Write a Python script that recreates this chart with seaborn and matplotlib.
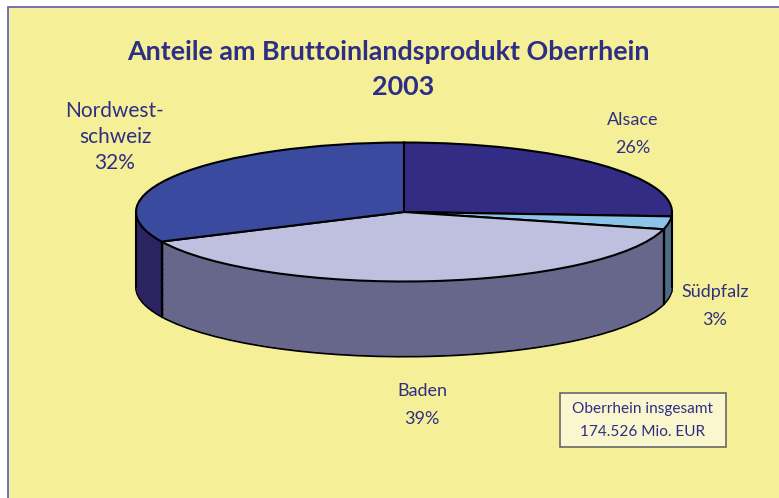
import numpy as np
import matplotlib
matplotlib.use("Agg")
import matplotlib.pyplot as plt
from matplotlib.patches import Rectangle
import seaborn as sns

# ---- data ----
regions = ["Alsace", "Südpfalz", "Baden", "Nordwest-\nschweiz"]
shares = [26, 3, 39, 32]
title_lines = ["Anteile am Bruttoinlandsprodukt Oberrhein", "2003"]
total_lines = ["Oberrhein insgesamt", "174.526 Mio. EUR"]
top_colors = ["#332c85", "#8cc3e8", "#bfbfe0", "#3a4a9e"]
wall_colors = ["#262063", "#4f6b8a", "#66678a", "#2c2461"]
# ---- layout (pixels) ----
W, H = 779, 498
CX, CY, RX, RY, DEPTH = 404, 212, 268, 69.5, 75
label_pos = {"Alsace": (633, 134), "Südpfalz": (715, 306), "Baden": (422, 405), "Nordwest-\nschweiz": (115, 137)}
TEXT = "#2f2e85"

sns.set_theme(style="white")
plt.rcParams["font.family"] = ["Lato", "DejaVu Sans"]

fig = plt.figure(figsize=(W / 100, H / 100), dpi=100, facecolor="white")

# background panel and texts, in pixel coordinates
bg = fig.add_axes([0, 0, 1, 1], zorder=0)
bg.set_xlim(0, W); bg.set_ylim(H, 0); bg.axis("off")
bg.add_patch(Rectangle((8.5, 6.5), W + 20, H + 20, facecolor="#f5f097", edgecolor="#6467b8", linewidth=1.3))

bg.text(388, 52, title_lines[0], ha="center", va="center", fontsize=19.4, fontweight="bold", color=TEXT)
bg.text(403, 87, title_lines[1], ha="center", va="center", fontsize=19.4, fontweight="bold", color=TEXT)
for name, val in zip(regions, shares):
    x, y = label_pos[name]
    big = name.startswith("Nordwest")
    bg.text(x, y, f"{name}\n{val}%", ha="center", va="center", color=TEXT,
            fontsize=15 if big else 13, linespacing=1.36 if big else 1.85)
bg.add_patch(Rectangle((560, 393), 166, 54, facecolor="#faf6cd", edgecolor="#5e5c62", linewidth=1.1))
bg.text(643, 409, total_lines[0], ha="center", va="center", fontsize=11.1, color=TEXT)
bg.text(643, 432, total_lines[1], ha="center", va="center", fontsize=11.1, color=TEXT)

# the pie: unit radius in data space, squashed by the axis limits
ax = fig.add_axes([0, 0, 1, 1], zorder=1)
ax.patch.set_alpha(0)
depth = DEPTH / RY
line = dict(edgecolor="black", linewidth=1.5)

# bottom layer carries the lower outline, upper layers build the wall
ax.pie(shares, colors=wall_colors, startangle=90, counterclock=False, wedgeprops=line, center=(0, -depth))
for d in np.linspace(depth - 0.01, 0.01, 60):
    ax.pie(shares, colors=wall_colors, startangle=90, counterclock=False,
           wedgeprops=dict(linewidth=0.6, edgecolor="none"), center=(0, -d))

# vertical edges at slice borders on the front and at the silhouette
angles = np.deg2rad(90 - np.cumsum(shares) * 3.6)
for a in angles:
    if np.sin(a) < 0 and abs(np.cos(a)) < 0.99:
        ax.plot([np.cos(a)] * 2, [np.sin(a), np.sin(a) - depth], color="black", lw=1.7, zorder=5)
for sx in (-1, 1):
    ax.plot([sx, sx], [0, -depth], color="black", lw=1.5, zorder=5)

# top face
wedges, _ = ax.pie(shares, colors=top_colors, startangle=90, counterclock=False, wedgeprops=line)
for w in wedges:
    w.set_zorder(6)

ax.set_aspect("auto")
ax.set_xlim((0 - CX) / RX, (W - CX) / RX)
ax.set_ylim((CY - H) / RY, CY / RY)
ax.axis("off")

fig.savefig("out.png", dpi=100, facecolor="white")
